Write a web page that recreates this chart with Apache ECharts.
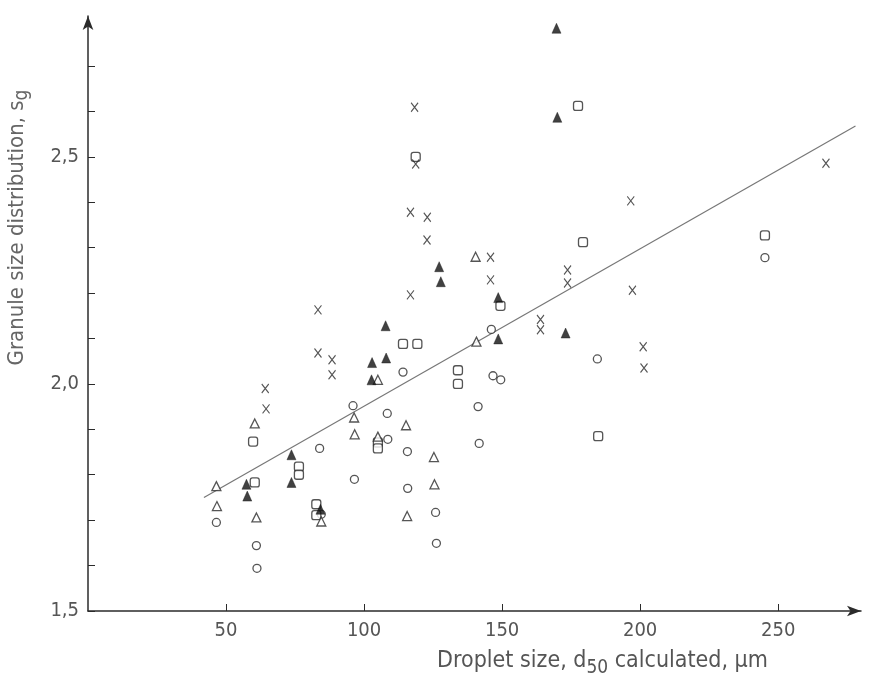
<!DOCTYPE html>
<html>
<head>
<meta charset="utf-8">
<script src="https://cdn.jsdelivr.net/npm/echarts@6/dist/echarts.min.js"></script>
<style>
  html, body { margin: 0; padding: 0; background: #fff; }
  #chart { width: 871px; height: 681px; }
</style>
</head>
<body>
<div id="chart"></div>
<script>
// tick values
const xTicks = [50, 100, 150, 200, 250]
const yTicks = [1.5, 1.6, 1.7, 1.8, 1.9, 2.0, 2.1, 2.2, 2.3, 2.4, 2.5, 2.6, 2.7]
const yLabels = [1.5, 2.0, 2.5]

// filled triangles
const filledTri = [
  [57.4, 1.779], [57.7, 1.753], [73.7, 1.844], [73.7, 1.783], [84.2, 1.724],
  [102.9, 2.047], [102.7, 2.009], [107.8, 2.128], [108, 2.057],
  [127.2, 2.258], [127.8, 2.225], [148.6, 2.19], [148.6, 2.099],
  [169.7, 2.783], [170, 2.587], [173, 2.112]
]
// open triangles
const openTri = [
  [46.5, 1.775], [46.7, 1.731], [60.4, 1.913], [61, 1.706], [84.5, 1.697],
  [96.4, 1.926], [96.6, 1.889], [105, 2.009], [105, 1.884], [115.2, 1.909],
  [115.6, 1.709], [125.3, 1.839], [125.5, 1.779], [140.4, 2.28], [140.7, 2.093]
]
// open circles
const circles = [
  [46.5, 1.695], [61, 1.644], [61.2, 1.594], [83.9, 1.858], [84.5, 1.713],
  [96, 1.952], [96.5, 1.79], [108.4, 1.935], [108.6, 1.878], [114.1, 2.026],
  [115.7, 1.851], [115.8, 1.77], [125.9, 1.717], [126.2, 1.649], [141.3, 1.95],
  [141.7, 1.869], [146.1, 2.12], [146.7, 2.018], [149.5, 2.009], [184.5, 2.055],
  [245.2, 2.278]
]
// open squares
const squares = [
  [59.8, 1.873], [60.4, 1.783], [76.4, 1.818], [76.4, 1.80], [82.7, 1.735],
  [82.7, 1.711], [105, 1.871], [105, 1.858], [114.1, 2.088], [119.3, 2.088],
  [118.7, 2.50], [134, 2.03], [134, 2.0], [149.4, 2.172], [177.5, 2.612],
  [179.3, 2.312], [184.8, 1.885], [245.2, 2.327]
]
// crosses
const crosses = [
  [64.2, 1.99], [64.5, 1.945], [83.3, 2.163], [83.3, 2.068], [88.4, 2.053],
  [88.4, 2.02], [116.8, 2.196], [116.8, 2.378], [118.3, 2.609], [118.7, 2.484],
  [122.9, 2.367], [122.8, 2.317], [145.8, 2.279], [145.8, 2.229], [163.9, 2.142],
  [163.9, 2.119], [173.7, 2.251], [173.7, 2.222], [196.6, 2.403], [197.2, 2.206],
  [201.1, 2.082], [201.4, 2.035], [267.3, 2.486]
]
// fitted line
const fitX = [42, 278]
const fitY = [1.75, 2.568]

const ink = '#2b2b2b'
const labelColor = '#555'
const font = "'DejaVu Sans Condensed', 'Liberation Sans Narrow', 'DejaVu Sans', sans-serif"

function pairs(xs, ys) {
  return xs.map(function (x, i) { return [x, ys[i]] })
}

const chart = echarts.init(document.getElementById('chart'))

const options = {
  backgroundColor: '#ffffff',
  animation: false,
  grid: { left: 88, right: 10, top: 16, bottom: 70, containLabel: false, outerBoundsMode: 'none' },
  xAxis: {
    type: 'value',
    min: 0,
    max: 280,
    name: 'Droplet size, d{sub|50} calculated, µm',
    nameLocation: 'middle',
    nameGap: 34,
    nameTextStyle: {
      color: labelColor, fontFamily: font, fontSize: 23,
      padding: [0, 0, 0, 256],
      rich: { sub: { fontSize: 19, color: labelColor, fontFamily: font, padding: [14, 0, 0, 0] } }
    },
    axisLine: {
      lineStyle: { color: ink, width: 1.5 },
      symbol: ['none', 'arrow'], symbolSize: [8, 14]
    },
    axisTick: { inside: true, length: 7, lineStyle: { color: ink }, customValues: xTicks },
    axisLabel: { color: labelColor, fontFamily: font, fontSize: 20, margin: 10, customValues: xTicks },
    splitLine: { show: false }
  },
  yAxis: {
    type: 'value',
    min: 1.5,
    max: 2.81,
    name: 'Granule size distribution, s{sub|g}',
    nameLocation: 'middle',
    nameGap: 56,
    nameRotate: 90,
    nameTextStyle: {
      color: '#666', fontFamily: font, fontSize: 22,
      padding: [0, 0, 0, 172],
      rich: { sub: { fontSize: 19, color: '#666', fontFamily: font, padding: [10, 0, 0, 0] } }
    },
    axisLine: {
      lineStyle: { color: ink, width: 1.5 },
      symbol: ['none', 'arrow'], symbolSize: [8, 14]
    },
    axisTick: { inside: true, length: 7, lineStyle: { color: ink }, customValues: yTicks },
    axisLabel: {
      color: labelColor, fontFamily: font, fontSize: 20, margin: 9,
      customValues: yLabels,
      formatter: function (v) { return v.toFixed(1).replace('.', ',') }
    },
    splitLine: { show: false }
  },
  series: [
    {
      name: 'fit', type: 'line', data: pairs(fitX, fitY), symbol: 'none',
      lineStyle: { color: '#777', width: 1.2 }, z: 1
    },
    {
      name: 'open circle', type: 'scatter', data: circles, symbol: 'circle', symbolSize: 8,
      itemStyle: { color: '#fff', borderColor: ink, borderWidth: 1.3 }
    },
    {
      name: 'open square', type: 'scatter', data: squares, symbol: 'roundRect', symbolSize: 9,
      itemStyle: { color: '#fff', borderColor: ink, borderWidth: 1.3 }
    },
    {
      name: 'open triangle', type: 'scatter', data: openTri, symbol: 'triangle', symbolSize: [9, 9],
      itemStyle: { color: '#fff', borderColor: ink, borderWidth: 1.3 }
    },
    {
      name: 'filled triangle', type: 'scatter', data: filledTri, symbol: 'triangle', symbolSize: [9, 10],
      itemStyle: { color: '#111', borderColor: '#111', borderWidth: 0.5 }
    },
    {
      name: 'cross', type: 'scatter', data: crosses,
      symbol: 'path://M0,0L8,10M8,0L0,10', symbolSize: [7, 9],
      itemStyle: { color: 'none', borderColor: ink, borderWidth: 1.2 }
    }
  ]
}

chart.setOption(options)
</script>
</body>
</html>
